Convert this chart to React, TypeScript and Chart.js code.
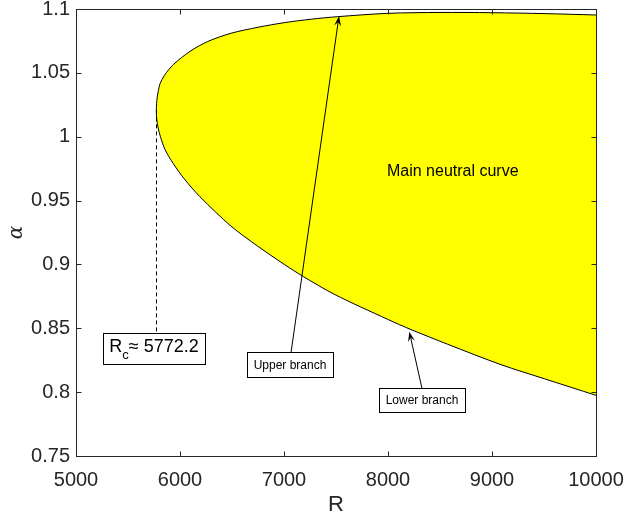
import React, { useEffect, useRef } from 'react';
import { Chart, registerables } from 'chart.js';

Chart.register(...registerables);

const FONT = "'Liberation Sans', Arial, Helvetica, sans-serif";
const AXIS_COLOR = '#262626';

// Axis ticks
const xTicks = [5000, 6000, 7000, 8000, 9000, 10000];
const yTicks = [0.75, 0.8, 0.85, 0.9, 0.95, 1, 1.05, 1.1];

// Neutral curve: upper branch (from the nose outward)
const upperR = [5772.2, 5775, 5781, 5792, 5808, 5850, 5936, 6096, 6266, 6490, 6750, 7003, 7260, 7516, 8000, 8500, 9000, 9500, 10000];
const upperAlpha = [1.0206, 1.026, 1.031, 1.036, 1.0415, 1.048, 1.0565, 1.0668, 1.0745, 1.081, 1.0857, 1.0893, 1.092, 1.094, 1.0966, 1.0973, 1.0971, 1.0964, 1.0953];

// Neutral curve: lower branch (from the nose outward)
const lowerR = [5772.2, 5776, 5790, 5812, 5856, 5935, 6041, 6192, 6490, 6747, 7003, 7186, 7484, 7997, 8221, 8574, 9087, 9503, 10000];
const lowerAlpha = [1.0206, 1.014, 1.0068, 1.0, 0.99, 0.979, 0.967, 0.953, 0.93, 0.9143, 0.9, 0.8905, 0.8766, 0.857, 0.849, 0.8375, 0.8215, 0.8105, 0.7975];

// Critical point
const criticalR = 5772.2;
const criticalAlpha = 1.0206;

// Annotations (data coordinates)
const mainLabel = 'Main neutral curve';
const mainLabelPos = [7990, 0.9724];
const upperLabel = 'Upper branch';
const upperBoxPos = [7058, 0.8216];
const upperArrowTip = [7529, 1.0945];
const lowerLabel = 'Lower branch';
const lowerBoxPos = [8327, 0.7938];
const lowerArrowTip = [8205, 0.8473];
const rcMain = 'R';
const rcSub = 'c';
const rcRest = '\u2248 5772.2';
const rcBoxPos = [5750, 0.8345];

const curvePoints = [
  ...lowerR.map((r, i) => ({ x: r, y: lowerAlpha[i] })).reverse(),
  ...upperR.slice(1).map((r, i) => ({ x: r, y: upperAlpha[i + 1] })),
];

function drawBox(ctx: CanvasRenderingContext2D, cx: number, cy: number, w: number, h: number) {
  const l = Math.round(cx - w / 2) + 0.5;
  const t = Math.round(cy - h / 2) + 0.5;
  ctx.fillStyle = '#ffffff';
  ctx.fillRect(l, t, Math.round(w), Math.round(h));
  ctx.strokeStyle = '#000000';
  ctx.lineWidth = 1;
  ctx.setLineDash([]);
  ctx.strokeRect(l, t, Math.round(w), Math.round(h));
  return { top: t, left: l };
}

function drawArrow(ctx: CanvasRenderingContext2D, x0: number, y0: number, x1: number, y1: number) {
  const dx = x1 - x0;
  const dy = y1 - y0;
  const len = Math.hypot(dx, dy);
  const ux = dx / len;
  const uy = dy / len;
  const nx = -uy;
  const ny = ux;
  const L = 10;
  const W = 3.5;
  ctx.strokeStyle = '#000';
  ctx.lineWidth = 1;
  ctx.setLineDash([]);
  ctx.beginPath();
  ctx.moveTo(x0, y0);
  ctx.lineTo(x1 - ux * 6, y1 - uy * 6);
  ctx.stroke();
  ctx.fillStyle = '#000';
  ctx.beginPath();
  ctx.moveTo(x1, y1);
  ctx.lineTo(x1 - ux * L + nx * W, y1 - uy * L + ny * W);
  ctx.lineTo(x1 - ux * L * 0.6, y1 - uy * L * 0.6);
  ctx.lineTo(x1 - ux * L - nx * W, y1 - uy * L - ny * W);
  ctx.closePath();
  ctx.fill();
}

const annotationPlugin = {
  id: 'neutralAnnotations',
  afterDatasetsDraw(chart: any) {
    const { ctx, scales } = chart;
    const X = (v: number) => scales.x.getPixelForValue(v);
    const Y = (v: number) => scales.y.getPixelForValue(v);
    ctx.save();

    // Main label
    ctx.font = `16px ${FONT}`;
    ctx.fillStyle = '#000';
    ctx.textAlign = 'left';
    ctx.textBaseline = 'middle';
    ctx.fillText(mainLabel, X(mainLabelPos[0]), Y(mainLabelPos[1]));

    // Rc box + dashed line
    ctx.font = `18px ${FONT}`;
    const wR = ctx.measureText(rcMain).width;
    ctx.font = `13px ${FONT}`;
    const wC = ctx.measureText(rcSub).width;
    ctx.font = `18px ${FONT}`;
    const wRest = ctx.measureText(rcRest).width;
    const rcW = wR + wC + wRest + 13;
    const rcH = 31;
    const rcCx = X(rcBoxPos[0]);
    const rcCy = Y(rcBoxPos[1]);
    const rcBox = drawBox(ctx, rcCx, rcCy, rcW, rcH);
    ctx.strokeStyle = '#000';
    ctx.lineWidth = 1;
    ctx.setLineDash([4, 3]);
    ctx.beginPath();
    const dxp = Math.round(X(criticalR)) + 0.5;
    ctx.moveTo(dxp, Y(criticalAlpha));
    ctx.lineTo(dxp, rcBox.top);
    ctx.stroke();
    ctx.setLineDash([]);
    let tx = rcCx - rcW / 2 + 6.5;
    ctx.fillStyle = '#000';
    ctx.textAlign = 'left';
    ctx.textBaseline = 'middle';
    ctx.font = `18px ${FONT}`;
    ctx.fillText(rcMain, tx, rcCy - 1);
    tx += wR;
    ctx.font = `13px ${FONT}`;
    ctx.fillText(rcSub, tx, rcCy + 7);
    tx += wC;
    ctx.font = `18px ${FONT}`;
    ctx.fillText(rcRest, tx, rcCy - 1);

    // Upper branch
    ctx.font = `12px ${FONT}`;
    const uw = ctx.measureText(upperLabel).width + 13;
    const uh = 25;
    const ucx = X(upperBoxPos[0]);
    const ucy = Y(upperBoxPos[1]);
    const ub = drawBox(ctx, ucx, ucy, uw, uh);
    ctx.fillStyle = '#000';
    ctx.textAlign = 'center';
    ctx.fillText(upperLabel, ucx, ucy + 1);
    drawArrow(ctx, ucx + 1, ub.top, X(upperArrowTip[0]), Y(upperArrowTip[1]));

    // Lower branch
    const lw = ctx.measureText(lowerLabel).width + 13;
    const lh = 24;
    const lcx = X(lowerBoxPos[0]);
    const lcy = Y(lowerBoxPos[1]);
    const lb = drawBox(ctx, lcx, lcy, lw, lh);
    ctx.fillStyle = '#000';
    ctx.textAlign = 'center';
    ctx.fillText(lowerLabel, lcx, lcy + 1);
    drawArrow(ctx, lcx, lb.top, X(lowerArrowTip[0]), Y(lowerArrowTip[1]));

    ctx.restore();
  },
  afterDraw(chart: any) {
    const { ctx, chartArea: a, scales } = chart;
    ctx.save();
    ctx.strokeStyle = AXIS_COLOR;
    ctx.lineWidth = 1;
    ctx.setLineDash([]);
    const l = Math.round(a.left) + 0.5;
    const r = Math.round(a.right) + 0.5;
    const t = Math.round(a.top) + 0.5;
    const b = Math.round(a.bottom) + 0.5;
    ctx.strokeRect(l, t, r - l, b - t);
    const TL = 5;
    ctx.beginPath();
    for (const v of xTicks) {
      const px = Math.round(scales.x.getPixelForValue(v)) + 0.5;
      ctx.moveTo(px, b);
      ctx.lineTo(px, b - TL);
      ctx.moveTo(px, t);
      ctx.lineTo(px, t + TL);
    }
    for (const v of yTicks) {
      const py = Math.round(scales.y.getPixelForValue(v)) + 0.5;
      ctx.moveTo(l, py);
      ctx.lineTo(l + TL, py);
      ctx.moveTo(r, py);
      ctx.lineTo(r - TL, py);
    }
    ctx.stroke();
    ctx.restore();
  },
};

export default function App() {
  const canvasRef = useRef<HTMLCanvasElement | null>(null);

  useEffect(() => {
    document.body.style.margin = '0';
    const canvas = canvasRef.current;
    if (!canvas) return;
    const chart = new Chart(canvas, {
      type: 'line',
      data: {
        datasets: [
          {
            data: curvePoints,
            fill: 'shape',
            backgroundColor: '#ffff00',
            borderColor: '#000000',
            borderWidth: 1,
            pointRadius: 0,
            tension: 0.3,
          },
        ],
      },
      options: {
        animation: false,
        responsive: false,
        devicePixelRatio: 1,
        layout: { padding: { top: 9, right: 28, left: 0, bottom: 0 } },
        plugins: {
          legend: { display: false },
          tooltip: { enabled: false },
        },
        scales: {
          x: {
            type: 'linear',
            min: 5000,
            max: 10000,
            afterBuildTicks: (s: any) => {
              s.ticks = xTicks.map((v) => ({ value: v }));
            },
            afterFit: (s: any) => {
              s.height = 60;
              s.paddingLeft = 0;
              s.paddingRight = 0;
            },
            grid: { display: false, drawTicks: false },
            border: { display: false },
            ticks: {
              font: { family: FONT, size: 20 },
              color: AXIS_COLOR,
              padding: 12,
              maxRotation: 0,
              autoSkip: false,
              callback: (v: any) => String(v),
            },
            title: {
              display: true,
              text: 'R',
              font: { family: FONT, size: 22, lineHeight: 1 },
              color: AXIS_COLOR,
              padding: { top: 0, bottom: 0 },
            },
          },
          y: {
            type: 'linear',
            min: 0.75,
            max: 1.1,
            afterBuildTicks: (s: any) => {
              s.ticks = yTicks.map((v) => ({ value: v }));
            },
            afterFit: (s: any) => {
              s.width = 76;
              s.paddingTop = 0;
              s.paddingBottom = 0;
            },
            grid: { display: false, drawTicks: false },
            border: { display: false },
            ticks: {
              font: { family: FONT, size: 20 },
              color: AXIS_COLOR,
              padding: 6,
              autoSkip: false,
              callback: (v: any) => String(Number(Number(v).toFixed(2))),
            },
            title: {
              display: true,
              text: '\u03b1',
              font: { family: "'DejaVu Serif', serif", size: 20, style: 'italic' },
              color: AXIS_COLOR,
              padding: { top: 5, bottom: 0 },
            },
          },
        },
      },
      plugins: [annotationPlugin],
    } as any);
    return () => chart.destroy();
  }, []);

  return (
    <div style={{ width: 624, height: 516 }}>
      <canvas ref={canvasRef} width={624} height={516} style={{ display: 'block' }} />
    </div>
  );
}
